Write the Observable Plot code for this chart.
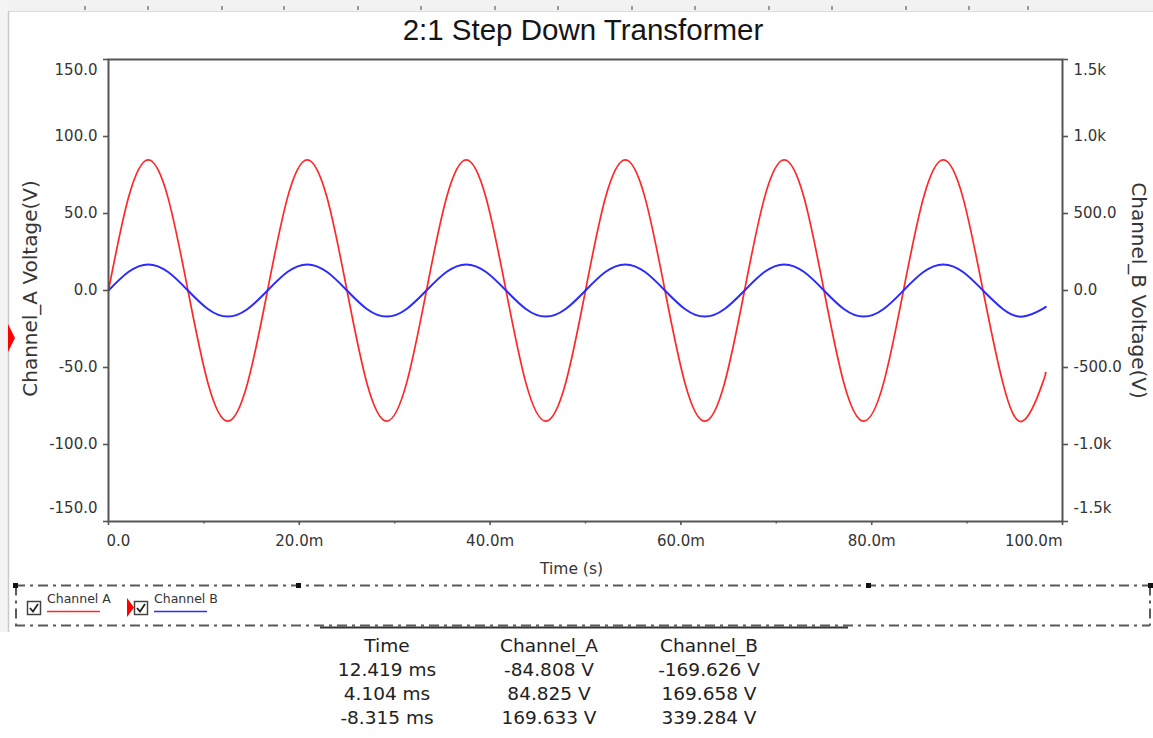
<!DOCTYPE html>
<html>
<head>
<meta charset="utf-8">
<script src="https://cdn.jsdelivr.net/npm/d3@7"></script>
<script src="https://cdn.jsdelivr.net/npm/@observablehq/plot@0.6"></script>
<style>
html, body { margin: 0; padding: 0; background: #fff; }
#wrap { position: relative; width: 1153px; height: 738px; overflow: hidden; background: #fff; }
#chart { position: absolute; left: 0; top: 0; }
#deco { position: absolute; left: 0; top: 0; pointer-events: none; }
</style>
</head>
<body>
<div id="wrap"><div id="chart"></div><svg id="deco" width="1153" height="738"></svg></div>
<script>
// ---------- data ----------
const title = "2:1 Step Down Transformer";
const xLabel = "Time (s)";
const yLabelLeft = "Channel_A Voltage(V)";
const yLabelRight = "Channel_B Voltage(V)";

// time in ms
const timeMs = [0, 2.08, 4.17, 6.25, 8.33, 10.42, 12.5, 14.58,
  16.67, 18.75, 20.83, 22.92, 25, 27.08, 29.17, 31.25,
  33.33, 35.42, 37.5, 39.58, 41.67, 43.75, 45.83, 47.92,
  50, 52.08, 54.17, 56.25, 58.33, 60.42, 62.5, 64.58,
  66.67, 68.75, 70.83, 72.92, 75, 77.08, 79.17, 81.25,
  83.33, 85.42, 87.5, 89.58, 91.67, 93.75, 95.83, 97.92, 98.2];

// Channel A voltage (V), left axis
const channelA = [0, 60.0, 84.8, 60.0, 0, -60.0, -84.8, -60.0,
  0, 60.0, 84.8, 60.0, 0, -60.0, -84.8, -60.0,
  0, 60.0, 84.8, 60.0, 0, -60.0, -84.8, -60.0,
  0, 60.0, 84.8, 60.0, 0, -60.0, -84.8, -60.0,
  0, 60.0, 84.8, 60.0, 0, -60.0, -84.8, -60.0,
  0, 60.0, 84.8, 60.0, 0, -60.0, -84.8, -60.0, -53.5];

// Channel B voltage (V), right axis
const channelB = [0, 120.0, 169.6, 120.0, 0, -120.0, -169.6, -120.0,
  0, 120.0, 169.6, 120.0, 0, -120.0, -169.6, -120.0,
  0, 120.0, 169.6, 120.0, 0, -120.0, -169.6, -120.0,
  0, 120.0, 169.6, 120.0, 0, -120.0, -169.6, -120.0,
  0, 120.0, 169.6, 120.0, 0, -120.0, -169.6, -120.0,
  0, 120.0, 169.6, 120.0, 0, -120.0, -169.6, -120.0, -107.0];

const xTicks = [0, 20, 40, 60, 80, 100];
const xTickLabels = ["0.0", "20.0m", "40.0m", "60.0m", "80.0m", "100.0m"];
const xMinorTicks = [10, 30, 50, 70, 90];
const yTicks = [-150, -100, -50, 0, 50, 100, 150];
const yTickLabels = ["-150.0", "-100.0", "-50.0", "0.0", "50.0", "100.0", "150.0"];
const yRightTickLabels = ["-1.5k", "-1.0k", "-500.0", "0.0", "500.0", "1.0k", "1.5k"];
const rightPerLeft = 10; // right axis 1.5k ↔ left axis 150.0

const legendNames = ["Channel A", "Channel B"];
const legendColors = ["#ff2828", "#2b2bff"];

const tableHeader = ["Time", "Channel_A", "Channel_B"];
const tableRows = [
  ["12.419 ms", "-84.808 V", "-169.626 V"],
  ["4.104 ms", "84.825 V", "169.658 V"],
  ["-8.315 ms", "169.633 V", "339.284 V"]
];

// ---------- chart ----------
const dataA = timeMs.map((t, i) => ({t, v: channelA[i]}));
const dataB = timeMs.map((t, i) => ({t, v: channelB[i]}));
const lab = (ticks, labels) => d => labels[ticks.indexOf(d)];
const yMid = yTicks.slice(1, -1);
const xMid = xTicks.slice(1, -1);
const axisColor = "#555";
const textColor = "#353535";

const chart = Plot.plot({
  width: 1153,
  height: 620,
  marginTop: 59,
  marginBottom: 99,
  marginLeft: 108,
  marginRight: 91,
  style: {fontFamily: "DejaVu Sans", fontSize: "15px", color: textColor, background: "transparent"},
  x: {domain: [0, 100]},
  y: {domain: [-150, 150]},
  marks: [
    Plot.line(dataA, {x: "t", y: "v", stroke: legendColors[0], strokeWidth: 1.7, curve: "natural"}),
    Plot.line(dataB, {x: "t", y: d => d.v / rightPerLeft, stroke: legendColors[1], strokeWidth: 2, curve: "natural"}),
    Plot.frame({stroke: axisColor, strokeWidth: 2}),
    // x axis
    Plot.axisX({ticks: xTicks, tickSize: 4, tickFormat: () => "", label: null, stroke: axisColor, strokeWidth: 1.6}),
    Plot.axisX({ticks: xMinorTicks, tickSize: 2.5, tickFormat: () => "", label: null, stroke: axisColor, strokeWidth: 1.4}),
    Plot.axisX({ticks: [xTicks[0]], tickSize: 0, tickPadding: 14, textAnchor: "start", dx: -2, tickFormat: lab(xTicks, xTickLabels), label: null}),
    Plot.axisX({ticks: xMid, tickSize: 0, tickPadding: 14, tickFormat: lab(xTicks, xTickLabels), label: null}),
    Plot.axisX({ticks: [xTicks[xTicks.length - 1]], tickSize: 0, tickPadding: 14, textAnchor: "end", tickFormat: lab(xTicks, xTickLabels), label: null}),
    // left axis
    Plot.axisY({ticks: yTicks, tickSize: 5, tickFormat: () => "", label: null, stroke: axisColor, strokeWidth: 1.6}),
    Plot.axisY({ticks: yMid, tickSize: 0, tickPadding: 11, tickFormat: lab(yTicks, yTickLabels), label: null}),
    Plot.axisY({ticks: [150], tickSize: 0, tickPadding: 11, dy: 11, tickFormat: lab(yTicks, yTickLabels), label: null}),
    Plot.axisY({ticks: [-150], tickSize: 0, tickPadding: 11, dy: -13, tickFormat: lab(yTicks, yTickLabels), label: null}),
    // right axis
    Plot.axisY({anchor: "right", ticks: yTicks, tickSize: 5, tickFormat: () => "", label: null, stroke: axisColor, strokeWidth: 1.6}),
    Plot.axisY({anchor: "right", ticks: yMid, tickSize: 0, tickPadding: 11, tickFormat: lab(yTicks, yRightTickLabels), label: null}),
    Plot.axisY({anchor: "right", ticks: [150], tickSize: 0, tickPadding: 11, dy: 11, tickFormat: lab(yTicks, yRightTickLabels), label: null}),
    Plot.axisY({anchor: "right", ticks: [-150], tickSize: 0, tickPadding: 11, dy: -13, tickFormat: lab(yTicks, yRightTickLabels), label: null}),
    // axis titles
    Plot.text([yLabelLeft], {text: d => d, frameAnchor: "left", textAnchor: "middle", dx: -78, dy: -2, rotate: -90, fontSize: 20, fill: textColor}),
    Plot.text([yLabelRight], {text: d => d, frameAnchor: "right", textAnchor: "middle", dx: 76, rotate: 90, fontSize: 20, fill: textColor}),
    Plot.text([xLabel], {text: d => d, frameAnchor: "bottom", textAnchor: "middle", dx: -14, dy: 52, fontSize: 15.5, fill: textColor})
  ]
});
document.getElementById("chart").appendChild(chart);

// ---------- window decorations, title, legend, cursor table ----------
const svg = d3.select("#deco");

// top ruler strip and left strip
svg.append("rect").attr("x", 0).attr("y", 0).attr("width", 1153).attr("height", 11).attr("fill", "#f2f2f2");
svg.append("line").attr("x1", 0).attr("x2", 1153).attr("y1", 11.5).attr("y2", 11.5).attr("stroke", "#dcdcdc");
[85, 148, 222, 284, 358, 421, 495, 558, 632, 695, 769, 832, 906, 969, 1028].forEach(x =>
  svg.append("rect").attr("x", x - 1).attr("y", 6).attr("width", 2).attr("height", 4).attr("fill", "#999"));
svg.append("rect").attr("x", 0).attr("y", 0).attr("width", 8).attr("height", 632).attr("fill", "#f4f4f4");
svg.append("line").attr("x1", 8.5).attr("x2", 8.5).attr("y1", 11).attr("y2", 632).attr("stroke", "#c9c9c9").attr("stroke-width", 1.5);
svg.append("polygon").attr("points", "8,324 15,338 8,352").attr("fill", "#ff0000");

// title
svg.append("text").attr("x", 583).attr("y", 40).attr("text-anchor", "middle")
  .attr("font-family", "Liberation Sans, Arial, sans-serif").attr("font-size", 29.5).attr("fill", "#151515").text(title);

// legend box (dash-dot)
const dash = "10 5 3 5";
const dd = (x1, y1, x2, y2) => svg.append("line").attr("x1", x1).attr("y1", y1).attr("x2", x2).attr("y2", y2)
  .attr("stroke", "#5a5a5a").attr("stroke-width", 2).attr("stroke-dasharray", dash);
dd(15, 585.5, 1150, 585.5);
dd(15, 625.5, 1150, 625.5);
dd(16, 585.5, 16, 625.5);
dd(1150, 585.5, 1150, 625.5);
[13, 296, 866, 1148].forEach(x => svg.append("rect").attr("x", x).attr("y", 583).attr("width", 5).attr("height", 5).attr("fill", "#111"));

const legendX = [27, 134];
legendNames.forEach((name, i) => {
  const x0 = legendX[i];
  svg.append("rect").attr("x", x0 + 0.5).attr("y", 601.5).attr("width", 13).attr("height", 13)
    .attr("fill", "#fff").attr("stroke", "#444").attr("stroke-width", 1.5);
  svg.append("path").attr("d", `M${x0 + 3},${608} L${x0 + 6},${611.5} L${x0 + 11},${604}`)
    .attr("fill", "none").attr("stroke", "#222").attr("stroke-width", 1.8);
  svg.append("text").attr("x", x0 + 20).attr("y", 603).attr("font-family", "DejaVu Sans")
    .attr("font-size", 12.5).attr("fill", "#333").text(name);
  svg.append("line").attr("x1", x0 + 20).attr("x2", x0 + 73).attr("y1", 611.5).attr("y2", 611.5)
    .attr("stroke", legendColors[i]).attr("stroke-width", 1.6);
});
svg.append("polygon").attr("points", "127,598 134,607.5 127,617").attr("fill", "#ff0000");

// cursor table
svg.append("line").attr("x1", 320).attr("x2", 848).attr("y1", 627.5).attr("y2", 627.5).attr("stroke", "#333").attr("stroke-width", 2);
const colX = [387, 549, 709];
const rowY = [652, 676, 700, 724];
[tableHeader, ...tableRows].forEach((row, r) => {
  row.forEach((cell, c) => {
    svg.append("text").attr("x", colX[c]).attr("y", rowY[r]).attr("text-anchor", "middle")
      .attr("font-family", "DejaVu Sans").attr("font-size", 18.5).attr("fill", "#222").text(cell);
  });
});
</script>
</body>
</html>
